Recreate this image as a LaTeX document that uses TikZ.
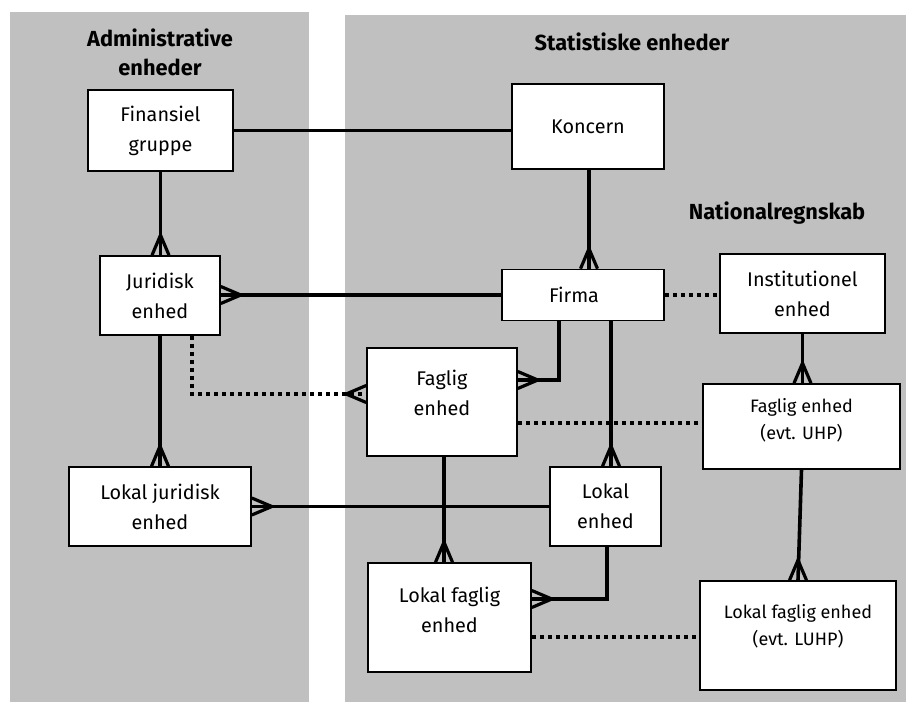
\documentclass[tikz,border=0pt]{standalone}
\usepackage{fontspec}
\setmainfont{Fira Sans}
\usetikzlibrary{calc}
\definecolor{panel}{HTML}{C0C0C0}
\tikzset{
  box/.style={draw, fill=white, line width=1.6pt, inner sep=0pt, align=center,
    font=\fontsize{19.8}{30}\selectfont},
  txt/.style={inner sep=0pt, align=center, font=\fontsize{19.8}{30}\selectfont},
  smalltxt/.style={inner sep=0pt, align=center, font=\fontsize{18}{27}\selectfont},
  title/.style={inner sep=0pt, align=center, font=\fontsize{21.8}{29}\selectfont\bfseries},
  conn/.style={line width=3.6pt},
  dots/.style={line width=3.6pt, dash pattern=on 4pt off 4pt},
  crowfoot/.pic={\draw[line width=3.2pt, line join=miter] (0,-8.5) -- (20,0) -- (0,8.5);}
}
\begin{document}
\begin{tikzpicture}[x=1pt,y=-1pt]
\useasboundingbox (0,0) rectangle (906,702);
\fill[panel] (10,12) rectangle (309,702);
\fill[panel] (345,15) rectangle (906,702);

\node[title] (tadm) at (160,52) {Administrative\\enheder};
\node[title] (tstat) at (632,42) {Statistiske enheder};
\node[title] (tnat) at (777,213) {Nationalregnskab};

\node[box, minimum width=145pt, minimum height=81pt] (fin) at (160.5,130.5) {Finansiel\\gruppe};
\node[box, minimum width=120pt, minimum height=79pt] (jur) at (160,295.5) {Juridisk\\enhed};
\node[box, minimum width=152pt, minimum height=85pt] (kon) at (588,126.5) {Koncern};
\node[box, minimum width=162pt, minimum height=51pt] (fir) at (583,295) {\hspace*{-18pt}Firma};
\node[box, minimum width=165pt, minimum height=79pt] (ins) at (802.5,293.5) {Institutionel\\enhed};
\node[box, minimum width=182pt, minimum height=79pt] (lj) at (160,506.5) {Lokal juridisk\\enhed};
\node[box, minimum width=150pt, minimum height=108pt] (fag) at (442,402) {};
\node[txt] (fagt) at (442,393) {Faglig\\enhed};
\node[box, minimum width=111pt, minimum height=79pt] (lok) at (605.5,506.5) {Lokal\\enhed};
\node[box, minimum width=163pt, minimum height=109pt] (lfag) at (449.5,617.5) {};
\node[txt] (lfagt) at (449.5,610) {Lokal faglig\\enhed};
\node[box, minimum width=197pt, minimum height=85pt] (uhp) at (801.5,426.5) {};
\node[smalltxt] (uhpt) at (801.5,420) {Faglig enhed\\(evt. UHP)};
\node[box, minimum width=196pt, minimum height=109pt] (luhp) at (798,635.5) {};
\node[smalltxt] (luhpt) at (798,626) {Lokal faglig enhed\\(evt. LUHP)};

% helper coordinates
\coordinate (jd) at ($(jur.south)+(32,0)$);
\coordinate (fw) at ($(fag.west)+(0,-8)$);
\coordinate (fe) at ($(fag.east)+(0,-22)$);
\coordinate (fs1) at ($(fir.south)+(-24,0)$);
\coordinate (fs2) at ($(fir.south)+(28,0)$);
\coordinate (fd) at ($(fag.east)+(0,21)$);
\coordinate (fb) at ($(fag.south)+(2,0)$);
\coordinate (le) at ($(lfag.east)+(0,-18.5)$);
\coordinate (ls) at ($(lok.south)+(1.5,0)$);
\coordinate (ld) at ($(lfag.east)+(0,19.5)$);
\coordinate (ks) at ($(kon.south)+(1,0)$);

% solid connectors
\draw[conn] (fin.east) -- (fin.east -| kon.west);
\draw[conn] (fin.south) -- (fin.south |- jur.north);
\draw[conn] (ks) -- (ks |- fir.north);
\draw[conn] (fir.west) -- (fir.west -| jur.east);
\draw[conn] (jur.south) -- (jur.south |- lj.north);
\draw[conn] (fs1) |- (fe);
\draw[conn] (fs2) -- (fs2 |- lok.north);
\draw[conn] (ins.south) -- (ins.south |- uhp.north);
\draw[conn] (fb) -- (fb |- lfag.north);
\draw[conn] (lok.west) -- (lok.west -| lj.east);
\draw[conn] (ls) |- (le);
\draw[conn] (uhp.south) -- (luhp.north);

% dotted connectors
\draw[dots] (fir.east) -- (fir.east -| ins.west);
\draw[dots] (jd) |- (fw);
\draw[dots] (fd) -- (fd -| uhp.west);
\draw[dots] (ld) -- (ld -| luhp.west);

% crow's feet
\pic[rotate=90] at (fin.south |- jur.north) {crowfoot};
\pic[rotate=90] at (ks |- fir.north) {crowfoot};
\pic at (fir.west -| jur.east) {crowfoot};
\pic[rotate=90] at (jur.south |- lj.north) {crowfoot};
\pic[rotate=180] at (fw) {crowfoot};
\pic at (fe) {crowfoot};
\pic[rotate=90] at (fs2 |- lok.north) {crowfoot};
\pic[rotate=90] at (ins.south |- uhp.north) {crowfoot};
\pic[rotate=90] at (fb |- lfag.north) {crowfoot};
\pic at (lok.west -| lj.east) {crowfoot};
\pic at (le) {crowfoot};
\pic[rotate=90] at (luhp.north) {crowfoot};
\end{tikzpicture}
\end{document}
